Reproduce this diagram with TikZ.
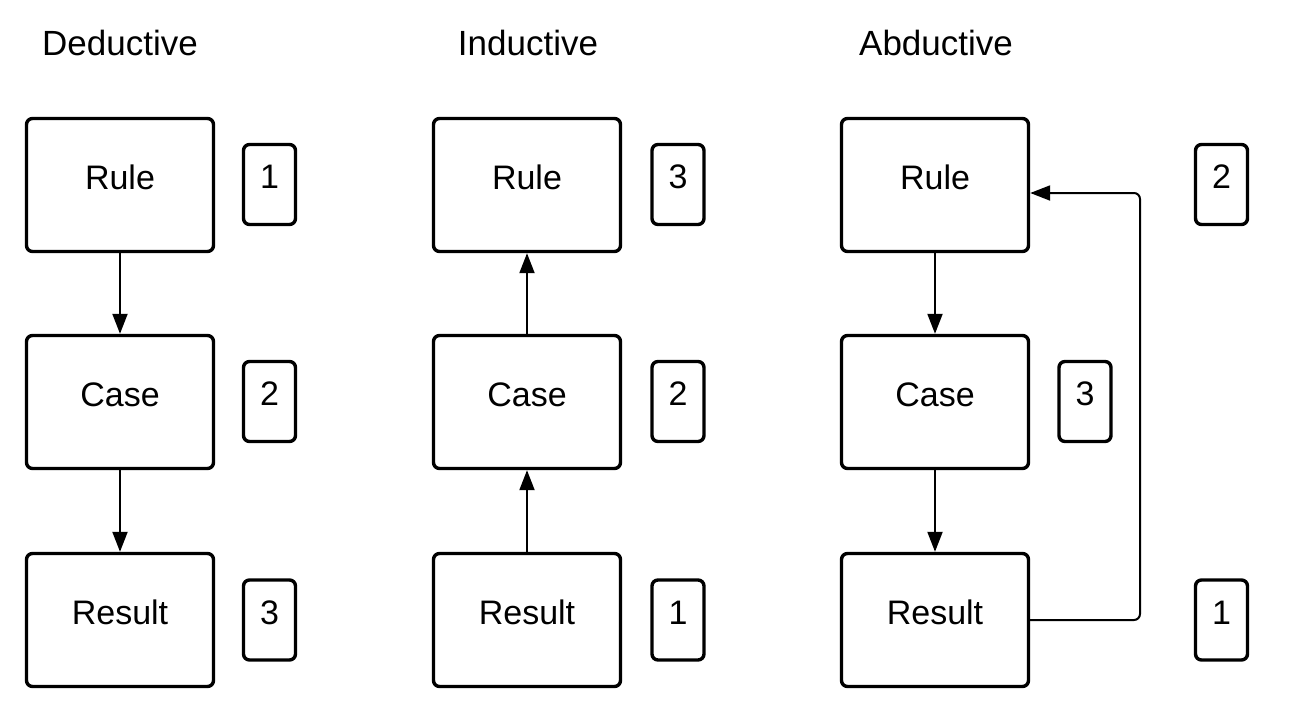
\documentclass[tikz,border=0pt]{standalone}
\usepackage{fontspec}
\setmainfont{Liberation Sans}
\usetikzlibrary{arrows.meta}
\begin{document}
\begin{tikzpicture}[x=1pt,y=-1pt,
  bigbox/.style={draw, line width=3.4pt, rounded corners=6pt, minimum width=187pt, minimum height=133pt, inner sep=0pt, text height=24pt, text depth=16pt, font=\fontsize{34}{40}\selectfont},
  numbox/.style={draw, line width=3.4pt, rounded corners=6pt, minimum width=52pt, minimum height=80pt, inner sep=0pt, text height=24pt, text depth=16pt, font=\fontsize{34}{40}\selectfont},
  title/.style={font=\fontsize{35}{42}\selectfont, inner sep=0pt},
  conn/.style={line width=2pt, -{Triangle[length=20pt,width=15pt]}}
]
\useasboundingbox (0,0) rectangle (1292,712);
% Deductive
\node[title] (tD) at (120,42.5) {Deductive};
\node[bigbox] (dRule) at (120,185) {Rule};
\node[bigbox] (dCase) at (120,402) {Case};
\node[bigbox] (dRes) at (120,620) {Result};
\node[numbox] (dn1) at (269.5,184.5) {1};
\node[numbox] (dn2) at (269.5,401.5) {2};
\node[numbox] (dn3) at (269.5,620) {3};
\draw[conn] (dRule) -- (dCase);
\draw[conn] (dCase) -- (dRes);
% Inductive
\node[title] (tI) at (528,42.5) {Inductive};
\node[bigbox] (iRule) at (527,185) {Rule};
\node[bigbox] (iCase) at (527,402) {Case};
\node[bigbox] (iRes) at (527,620) {Result};
\node[numbox] (in3) at (678,184.5) {3};
\node[numbox] (in2) at (678,401.5) {2};
\node[numbox] (in1) at (678,620) {1};
\draw[conn] (iRes) -- (iCase);
\draw[conn] (iCase) -- (iRule);
% Abductive
\node[title] (tA) at (936,42.5) {Abductive};
\node[bigbox] (aRule) at (935,185) {Rule};
\node[bigbox] (aCase) at (935,402) {Case};
\node[bigbox] (aRes) at (935,620) {Result};
\node[numbox] (an2) at (1221.5,184.5) {2};
\node[numbox] (an3) at (1085,401.5) {3};
\node[numbox] (an1) at (1221.5,620) {1};
\draw[conn] (aRule) -- (aCase);
\draw[conn] (aCase) -- (aRes);
\coordinate (c1) at (1140,620);
\coordinate (c2) at (1140,193);
\draw[conn, rounded corners=6pt] (aRes.east) -- (c1) -- (c2) -- (aRule.east |- c2);
\end{tikzpicture}
\end{document}
